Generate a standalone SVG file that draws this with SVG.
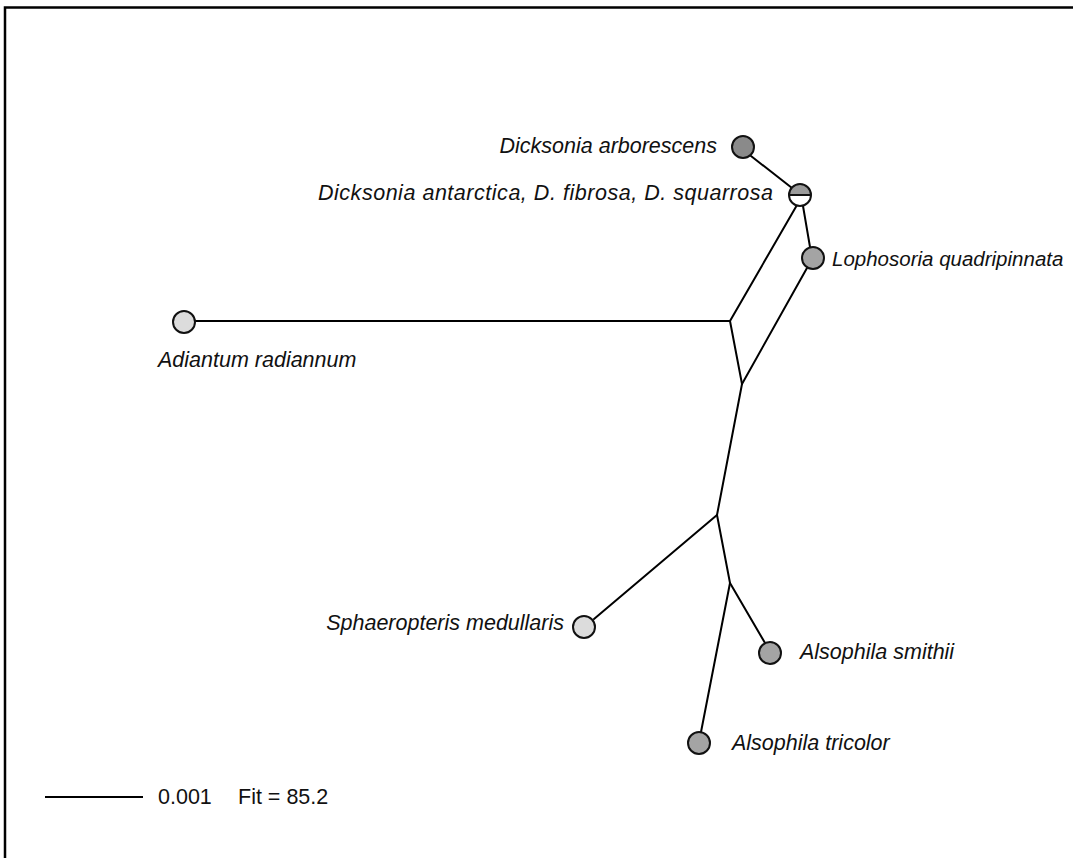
<svg xmlns="http://www.w3.org/2000/svg" width="1073" height="858" viewBox="0 0 1073 858">
<style>
.edge{stroke:#000;stroke-width:2;fill:none;stroke-linecap:round}
.node{stroke:#111;stroke-width:2}
.dark{fill:#8a8a8a}
.mid{fill:#a4a4a4}
.light{fill:#dcdcdc}
.lbl{font-family:"Liberation Sans",Arial,sans-serif;font-size:21.5px;font-style:italic;fill:#111}
.scale{font-family:"Liberation Sans",Arial,sans-serif;font-size:21.5px;fill:#111}
</style>
<rect width="1073" height="858" fill="#fff"/>
<path d="M5,858 V7.5 H1073" stroke="#000" stroke-width="2.5" fill="none"/>
<g id="connectors">
<line class="edge" x1="751" y1="156" x2="792" y2="188"/>
<line class="edge" x1="797" y1="205" x2="730" y2="321"/>
<line class="edge" x1="803" y1="206" x2="810" y2="247"/>
<line class="edge" x1="195" y1="321" x2="730" y2="321"/>
<line class="edge" x1="730" y1="321" x2="742" y2="384"/>
<line class="edge" x1="742" y1="384" x2="807" y2="268"/>
<line class="edge" x1="742" y1="384" x2="717" y2="515"/>
<line class="edge" x1="717" y1="515" x2="594" y2="619"/>
<line class="edge" x1="717" y1="515" x2="730" y2="583"/>
<line class="edge" x1="730" y1="583" x2="765" y2="643"/>
<line class="edge" x1="730" y1="583" x2="701" y2="732"/>
</g>
<g id="n-arborescens">
<circle class="node dark" cx="743" cy="147" r="11"/>
<text class="lbl" x="717" y="153" text-anchor="end">Dicksonia arborescens</text>
</g>
<g id="n-antarctica">
<path d="M789,195 A11,11 0 0 1 811,195 Z" fill="#9a9a9a"/>
<path d="M789,195 A11,11 0 0 0 811,195 Z" fill="#fff"/>
<circle cx="800" cy="195" r="11" fill="none" stroke="#111" stroke-width="2"/>
<line x1="789" y1="195" x2="811" y2="195" stroke="#111" stroke-width="2"/>
<text class="lbl" x="318" y="200" textLength="455" lengthAdjust="spacing">Dicksonia antarctica, D. fibrosa, D. squarrosa</text>
</g>
<g id="n-lophosoria">
<circle class="node mid" cx="813" cy="258" r="11"/>
<text class="lbl" x="832" y="266" style="font-size:20.5px">Lophosoria quadripinnata</text>
</g>
<g id="n-adiantum">
<circle class="node light" cx="184" cy="322" r="11"/>
<text class="lbl" x="158" y="367">Adiantum radiannum</text>
</g>
<g id="n-sphaeropteris">
<circle class="node light" cx="584" cy="627" r="11"/>
<text class="lbl" x="564" y="630" text-anchor="end">Sphaeropteris medullaris</text>
</g>
<g id="n-smithii">
<circle class="node mid" cx="770" cy="653" r="11"/>
<text class="lbl" x="800" y="659">Alsophila smithii</text>
</g>
<g id="n-tricolor">
<circle class="node mid" cx="699" cy="743" r="11"/>
<text class="lbl" x="732" y="750">Alsophila tricolor</text>
</g>
<g id="scalebar">
<line x1="45" y1="797" x2="143" y2="797" stroke="#000" stroke-width="2"/>
<text class="scale" x="158" y="804">0.001</text>
<text class="scale" x="238" y="804">Fit = 85.2</text>
</g>
</svg>
